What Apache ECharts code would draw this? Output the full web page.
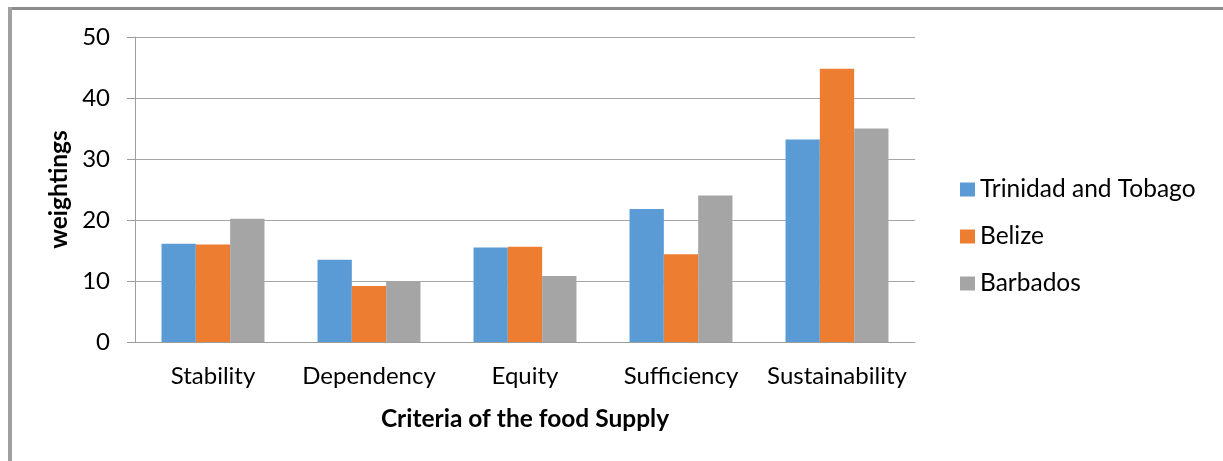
<!DOCTYPE html>
<html><head><meta charset="utf-8">
<script src="https://cdn.jsdelivr.net/npm/echarts@6/dist/echarts.min.js"></script>
<style>html,body{margin:0;padding:0;background:#fff}#c{width:1223px;height:461px}</style>
</head><body><div id="c"></div>
<script>
var categories = ["Stability", "Dependency", "Equity", "Sufficiency", "Sustainability"];
var seriesNames = ["Trinidad and Tobago", "Belize", "Barbados"];
var trinidad = [16.1, 13.5, 15.5, 21.8, 33.2];
var belize = [16.0, 9.2, 15.6, 14.4, 44.8];
var barbados = [20.2, 9.9, 10.8, 24.0, 35.0];
var colors = ["#5B9BD5", "#ED7D31", "#A5A5A5"];
var font = "Lato, 'Open Sans', sans-serif";
var chart = echarts.init(document.getElementById('c'));
var datas = [trinidad, belize, barbados];
chart.setOption({
  animation: false,
  textStyle: {fontFamily: font},
  graphic: [
    {type: 'rect', shape: {x: 8, y: 7, width: 1215, height: 3}, style: {fill: '#8c8c8c'}},
    {type: 'rect', shape: {x: 8, y: 7, width: 4, height: 454}, style: {fill: '#a0a0a0'}}
  ],
  grid: {left: 135, right: 308, top: 37, bottom: 119},
  legend: {
    orient: 'vertical', left: 955, top: 172, itemWidth: 15, itemHeight: 14, itemGap: 22,
    icon: 'rect',
    textStyle: {fontSize: 24.5, color: '#000', fontFamily: font, lineHeight: 25},
    data: seriesNames
  },
  xAxis: {
    type: 'category', data: categories,
    name: 'Criteria of the food Supply', nameLocation: 'middle', nameGap: 65,
    nameTextStyle: {fontSize: 24.5, fontWeight: 'bold', color: '#000', fontFamily: font},
    axisLine: {lineStyle: {color: '#9e9e9e', width: 1}},
    axisTick: {show: false},
    axisLabel: {interval: 0, fontSize: 24, color: '#000', margin: 22, fontFamily: font}
  },
  yAxis: {
    type: 'value', min: 0, max: 50, interval: 10,
    name: 'weightings', nameLocation: 'middle', nameGap: 59, nameRotate: 90,
    nameTextStyle: {fontSize: 24.5, fontWeight: 'bold', color: '#000', fontFamily: font},
    axisLine: {show: true, lineStyle: {color: '#9e9e9e', width: 1}},
    axisTick: {show: true, length: 8, lineStyle: {color: '#9e9e9e'}},
    splitLine: {lineStyle: {color: '#a6a6a6', width: 1}},
    axisLabel: {fontSize: 24, color: '#000', margin: 25, fontFamily: font}
  },
  series: seriesNames.map(function (n, i) {
    return {
      name: n, type: 'bar', data: datas[i], barGap: '0%', barCategoryGap: '34%',
      itemStyle: {color: colors[i]}
    };
  })
});
</script></body></html>
